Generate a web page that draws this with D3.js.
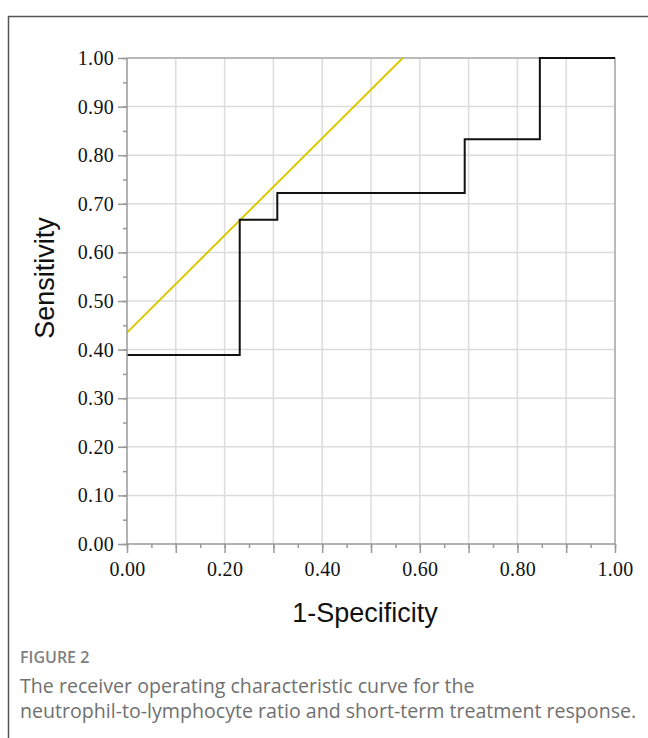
<!DOCTYPE html>
<html>
<head>
<meta charset="utf-8">
<script src="https://cdn.jsdelivr.net/npm/d3@7"></script>
<style>
  body { margin: 0; background: #fff; }
  #chart { width: 648px; height: 738px; }
</style>
</head>
<body>
<div id="chart"></div>
<script>
// ROC step points (1-specificity, sensitivity)
var rocFpr = [0, 0.231, 0.308, 0.692, 0.846, 1.0];
var rocTpr = [0.389, 0.667, 0.722, 0.833, 1.0, 1.0];

// tangent reference line through the cut-off
var refFpr = [0, 0.565];
var refTpr = [0.435, 1.0];

var yTicks = [0, 0.1, 0.2, 0.3, 0.4, 0.5, 0.6, 0.7, 0.8, 0.9, 1.0];
var xLabelTicks = [0, 0.2, 0.4, 0.6, 0.8, 1.0];
var minorTicks = d3.range(0, 1.0001, 0.05);

var captionTitle = "FIGURE 2";
var captionLines = [
  "The receiver operating characteristic curve for the",
  "neutrophil-to-lymphocyte ratio and short-term treatment response."
];

var margin = { top: 58, left: 127 };
var width = 488, height = 486;

var svg = d3.select("#chart").append("svg")
  .attr("width", 648)
  .attr("height", 738);

// figure frame
svg.append("path")
  .attr("d", "M8.5,760 L8.5,16.5 L660,16.5")
  .attr("fill", "none")
  .attr("stroke", "#555")
  .attr("stroke-width", 1.5);

var g = svg.append("g")
  .attr("transform", `translate(${margin.left},${margin.top})`);

var x = d3.scaleLinear().domain([0, 1]).range([0, width]);
var y = d3.scaleLinear().domain([0, 1]).range([height, 0]);

// grid
g.append("g").selectAll("line")
  .data(yTicks.slice(1))
  .enter().append("line")
  .attr("x1", 0).attr("x2", width)
  .attr("y1", function(d) { return y(d); })
  .attr("y2", function(d) { return y(d); })
  .attr("stroke", "#dcdcdc").attr("stroke-width", 1.5);

g.append("g").selectAll("line")
  .data(yTicks.slice(1))
  .enter().append("line")
  .attr("y1", 0).attr("y2", height)
  .attr("x1", function(d) { return x(d); })
  .attr("x2", function(d) { return x(d); })
  .attr("stroke", "#dcdcdc").attr("stroke-width", 1.5);

// top / right border
g.append("path")
  .attr("d", `M0,${y(1)} L${x(1)},${y(1)} L${x(1)},${y(0)}`)
  .attr("fill", "none")
  .attr("stroke", "#aaa")
  .attr("stroke-width", 1.5);

// reference line
var refData = refFpr.map(function(d, i) { return [d, refTpr[i]]; });
g.append("path")
  .datum(refData)
  .attr("fill", "none")
  .attr("stroke", "#dcc800")
  .attr("stroke-width", 2)
  .attr("d", d3.line().x(function(d) { return x(d[0]); }).y(function(d) { return y(d[1]); }));

// ROC curve
var rocData = rocFpr.map(function(d, i) { return [d, rocTpr[i]]; });
g.append("path")
  .datum(rocData)
  .attr("fill", "none")
  .attr("stroke", "#111")
  .attr("stroke-width", 2)
  .attr("d", d3.line()
    .curve(d3.curveStepAfter)
    .x(function(d) { return x(d[0]); })
    .y(function(d) { return y(d[1]); }));

// axes
var tickFont = "'Liberation Serif', 'Times New Roman', serif";

var yMinor = g.append("g")
  .call(d3.axisLeft(y).tickValues(minorTicks).tickSize(4).tickFormat(""));
var yAxis = g.append("g")
  .call(d3.axisLeft(y).tickValues(yTicks).tickSize(9).tickPadding(4)
    .tickFormat(function(d) { return d.toFixed(2); }));

var xMinor = g.append("g")
  .attr("transform", `translate(0,${height})`)
  .call(d3.axisBottom(x).tickValues(minorTicks).tickSize(4).tickFormat(""));
var xAxis = g.append("g")
  .attr("transform", `translate(0,${height})`)
  .call(d3.axisBottom(x).tickValues(yTicks).tickSize(9).tickPadding(9)
    .tickFormat(function(d) { return xLabelTicks.some(function(t) { return Math.abs(t - d) < 1e-6; }) ? d.toFixed(2) : ""; }));

[yMinor, yAxis, xMinor, xAxis].forEach(function(a) {
  a.selectAll(".domain").attr("stroke", "#999").attr("stroke-width", 1.5);
  a.selectAll(".tick line").attr("stroke", "#999").attr("stroke-width", 1.5);
  a.selectAll(".tick text")
    .style("font-family", tickFont)
    .style("font-size", "20px")
    .style("letter-spacing", "0.3px")
    .attr("fill", "#111");
});
// keep the frame's outer ticks off
yAxis.select(".domain").attr("d", `M0,0V${height}`);
xAxis.select(".domain").attr("d", `M0,0H${width}`);
yMinor.select(".domain").remove();
xMinor.select(".domain").remove();

// axis titles
g.append("text")
  .attr("transform", `translate(${54 - margin.left},${278 - margin.top}) rotate(-90)`)
  .attr("text-anchor", "middle")
  .style("font-family", "'Liberation Sans', Arial, sans-serif")
  .style("font-size", "27px")
  .attr("fill", "#111")
  .text("Sensitivity");

g.append("text")
  .attr("x", 365 - margin.left)
  .attr("y", 622 - margin.top)
  .attr("text-anchor", "middle")
  .style("font-family", "'Liberation Sans', Arial, sans-serif")
  .style("font-size", "27px")
  .attr("fill", "#111")
  .text("1-Specificity");

// caption
svg.append("text")
  .attr("x", 20)
  .attr("y", 663)
  .style("font-family", "'Open Sans', sans-serif")
  .style("font-size", "16px")
  .style("font-weight", 600)
  .attr("fill", "#808080")
  .text(captionTitle);

svg.append("g").selectAll("text")
  .data(captionLines)
  .enter().append("text")
  .attr("x", 20)
  .attr("y", function(d, i) { return 693 + i * 25; })
  .style("font-family", "'Open Sans', sans-serif")
  .style("font-size", "19.6px")
  .style("font-weight", 400)
  .attr("fill", "#707070")
  .text(function(d) { return d; });
</script>
</body>
</html>
